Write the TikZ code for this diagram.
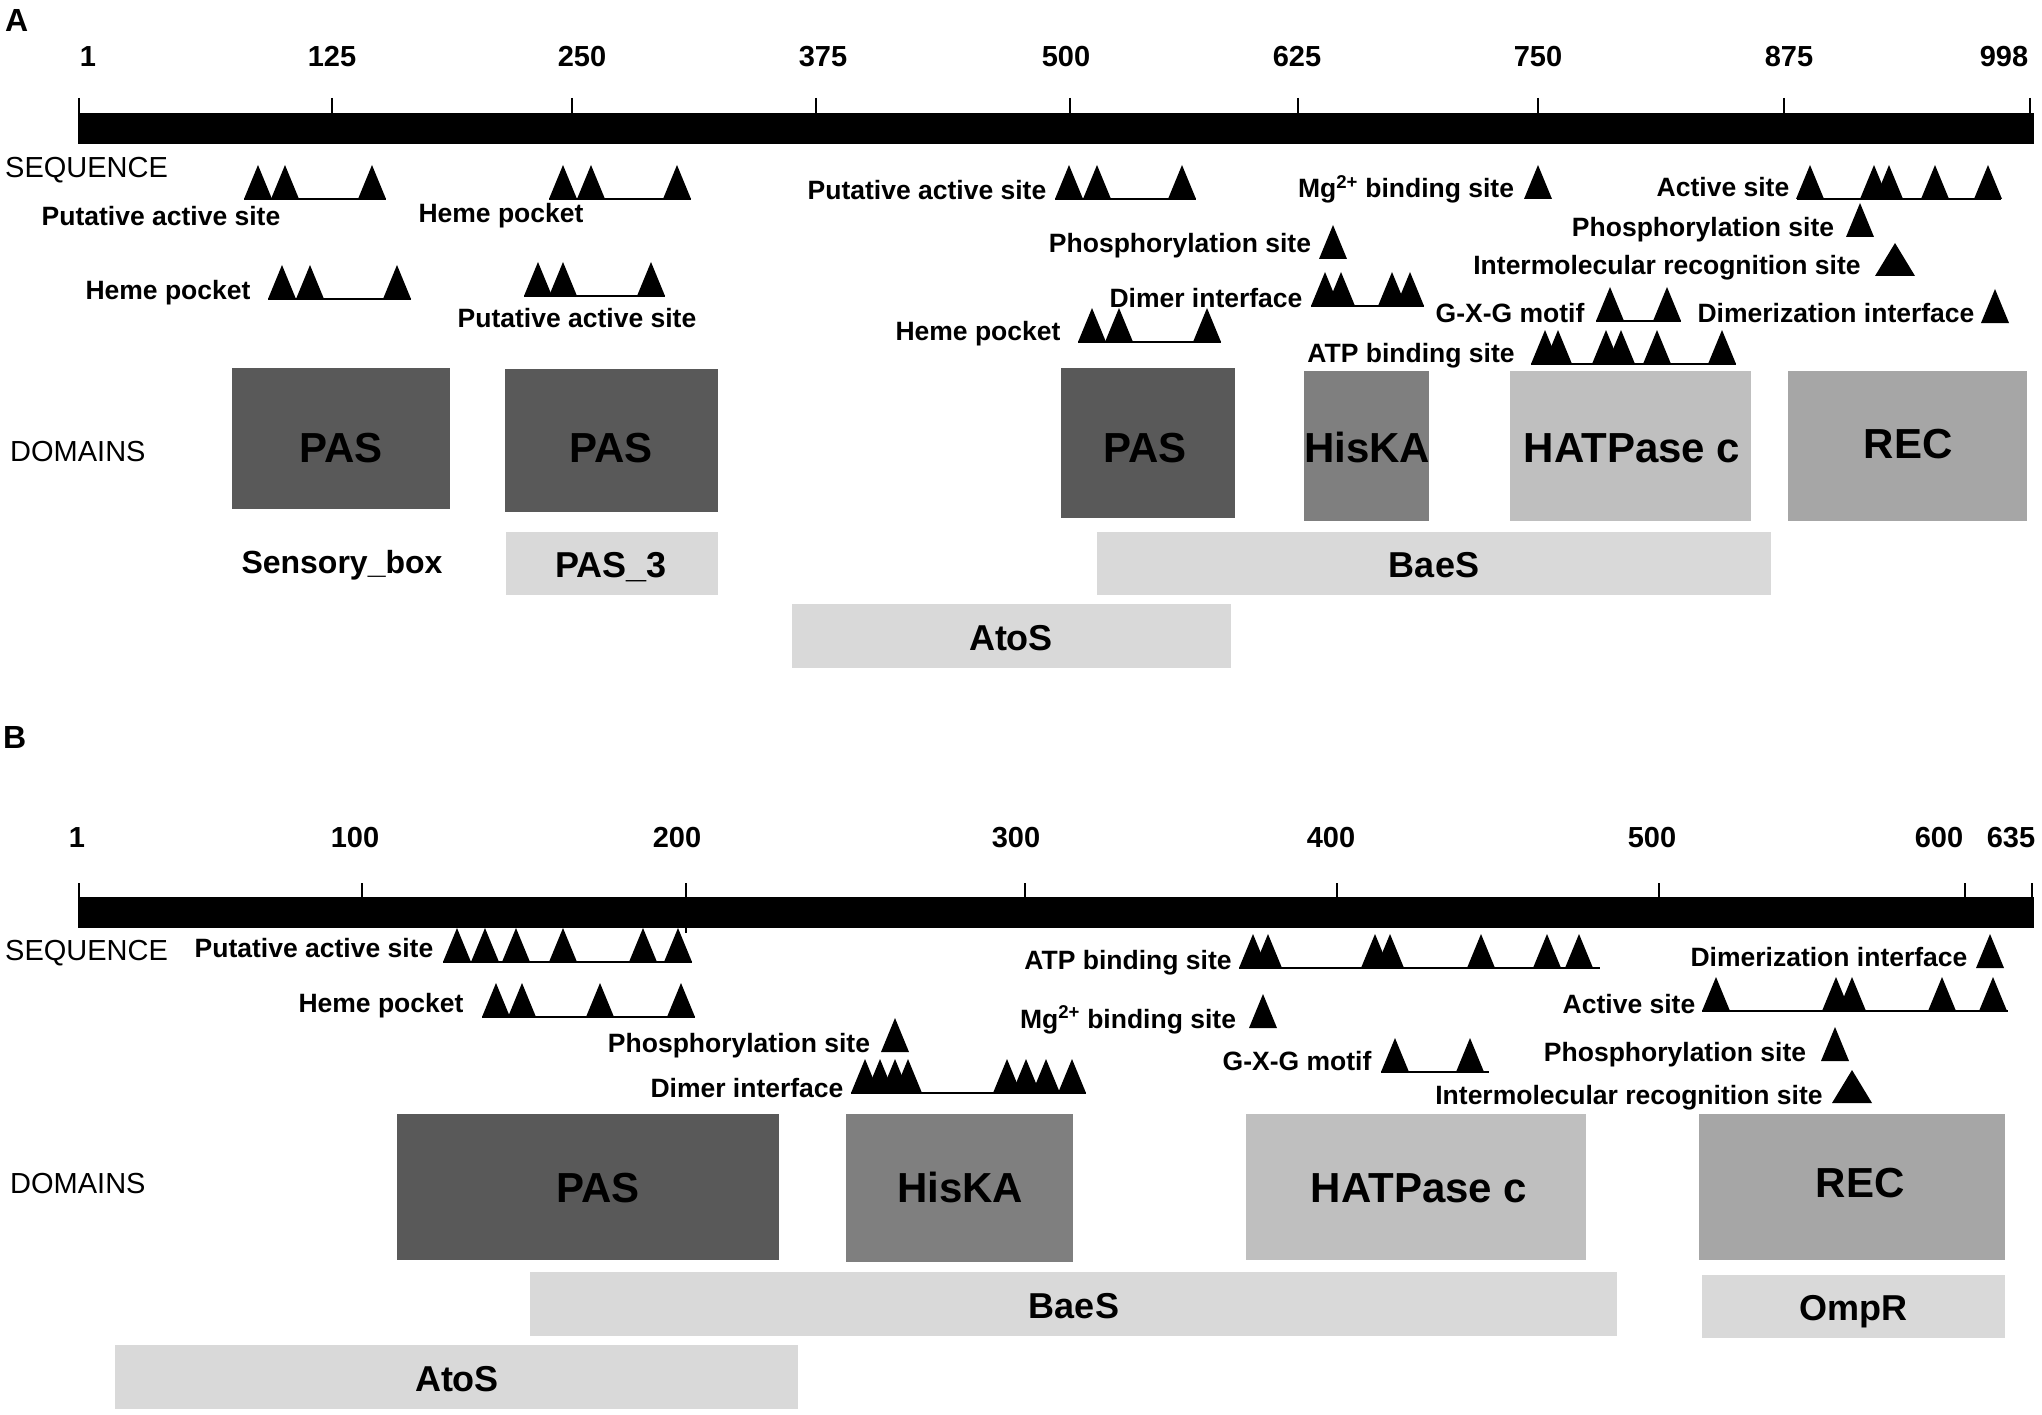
\documentclass[tikz,border=0pt]{standalone}
\usepackage{fontspec}
\setmainfont{Liberation Sans}
\definecolor{pasgray}{RGB}{89,89,89}
\definecolor{hisgray}{RGB}{127,127,127}
\definecolor{hatgray}{RGB}{191,191,191}
\definecolor{recgray}{RGB}{166,166,166}
\definecolor{famgray}{RGB}{217,217,217}
\newcommand{\sitefont}{\fontsize{26.5}{28}\selectfont\bfseries}
\newcommand{\tickfont}{\fontsize{29}{30}\selectfont\bfseries}
\newcommand{\rowfont}{\fontsize{29}{30}\selectfont}
\newcommand{\domfont}{\fontsize{42}{44}\selectfont\bfseries}
\newcommand{\famfont}{\fontsize{36}{38}\selectfont\bfseries}
\newcommand{\sites}[2]{\foreach \p in {#1} {\fill (\p-14,#2) -- (\p,#2-34) -- (\p+14,#2) -- cycle;}}
\newcommand{\bigsite}[2]{\fill (#1-20,#2) -- (#1,#2-33) -- (#1+20,#2) -- cycle;}

\begin{document}
\begin{tikzpicture}[x=1pt,y=-1pt,
  lbl/.style={anchor=base,inner sep=0pt,font=\sitefont},
  tlbl/.style={anchor=base,inner sep=0pt,font=\tickfont},
  row/.style={anchor=base west,inner sep=0pt,font=\rowfont},
  dom/.style={anchor=base,inner sep=0pt,font=\domfont},
  fam/.style={anchor=base,inner sep=0pt,font=\famfont},
  panel/.style={anchor=base west,inner sep=0pt,font=\fontsize{32}{34}\selectfont\bfseries},
  tick/.style={line width=1.5pt},
  sitebar/.style={line width=1.5pt}]
\useasboundingbox (0,0) rectangle (2042,1415);
\fill[white] (0,0) rectangle (2042,1415);
\begin{scope}
\node[panel] (A) at (5,32) {A};
\fill (78,113) rectangle (2034,144);
\foreach \t in {79,332,572,816,1070,1298,1538,1784,2030}
  \draw[tick] (\t,98) -- (\t,113);
\foreach \x/\n in {88/1,332/125,582/250,823/375,1066/500,1297/625,1538/750,1789/875,2004/998}
  \node[tlbl] (ta\n) at (\x,67) {\n};
\node[row] (seqA) at (5,178) {SEQUENCE};
\node[row] (domA) at (10,461) {DOMAINS};
\node[lbl] (a1) at (161,226) {Putative active site};
\sites{258,285,372}{199} \draw[sitebar] (244,199) -- (386,199);
\node[lbl] (a2) at (501,223) {Heme pocket};
\sites{563,591,677}{199} \draw[sitebar] (549,199) -- (691,199);
\node[lbl] (a3) at (168,299) {Heme pocket};
\sites{282,310,397}{299} \draw[sitebar] (268,299) -- (411,299);
\node[lbl] (a4) at (577,327) {Putative active site};
\sites{538,563,651}{296} \draw[sitebar] (524,296) -- (665,296);
\node[lbl] (a5) at (927,200) {Putative active site};
\sites{1069,1097,1182}{199} \draw[sitebar] (1055,199) -- (1196,199);
\node[lbl] (a6) at (1406,198) {Mg\textsuperscript{2+} binding site};
\sites{1538}{199}
\node[lbl] (a7) at (1723,197) {Active site};
\sites{1810,1874,1889,1935,1988}{199} \draw[sitebar] (1797,199) -- (2001,199);
\node[lbl] (a8) at (1703,237) {Phosphorylation site};
\sites{1860}{237}
\node[lbl] (a9) at (1667,275) {Intermolecular recognition site};
\bigsite{1895}{276}
\node[lbl] (a10) at (1180,253) {Phosphorylation site};
\sites{1333}{259}
\node[lbl] (a11) at (1206,307) {Dimer interface};
\sites{1325,1341,1392,1410}{306} \draw[sitebar] (1311,306) -- (1424,306);
\node[lbl] (a12) at (1510,322) {G-X-G motif};
\sites{1610,1667}{321} \draw[sitebar] (1596,321) -- (1681,321);
\node[lbl] (a13) at (1836,322) {Dimerization interface};
\sites{1995}{323}
\node[lbl] (a14) at (978,340) {Heme pocket};
\sites{1092,1119,1207}{342} \draw[sitebar] (1078,342) -- (1221,342);
\node[lbl] (a15) at (1411,362) {ATP binding site};
\sites{1545,1558,1606,1621,1657,1722}{364} \draw[sitebar] (1531,364) -- (1736,364);
\fill[pasgray] (232,368) rectangle (450,509);
\node[dom] (pasA1) at (341,462) {PAS};
\fill[pasgray] (505,369) rectangle (718,512);
\node[dom] (pasA2) at (611,462) {PAS};
\fill[pasgray] (1061,368) rectangle (1235,518);
\node[dom] (pasA3) at (1145,462) {PAS};
\fill[hisgray] (1304,371) rectangle (1429,521);
\node[dom] (hisA) at (1367,462) {HisKA};
\fill[hatgray] (1510,371) rectangle (1751,521);
\node[dom] (hatA) at (1632,462) {HATPase c};
\fill[recgray] (1788,371) rectangle (2027,521);
\node[dom] (recA) at (1908,458) {REC};
\node[fam,font=\fontsize{32}{34}\selectfont\bfseries] (sboxA) at (342,573) {Sensory\_box};
\fill[famgray] (506,532) rectangle (718,595);
\node[fam] (pas3A) at (611,577) {PAS\_3};
\fill[famgray] (1097,532) rectangle (1771,595);
\node[fam] (baesA) at (1434,577) {BaeS};
\fill[famgray] (792,604) rectangle (1231,668);
\node[fam] (atosA) at (1011,650) {AtoS};
\end{scope}
\begin{scope}
\node[panel] (B) at (3,748) {B};
\fill (78,897) rectangle (2034,928);
\foreach \t in {79,362,686,1025,1337,1659,1965,2032}
  \draw[tick] (\t,883) -- (\t,897);
\draw[tick] (686,928) -- (686,933);
\foreach \x/\n in {77/1,355/100,677/200,1016/300,1331/400,1652/500,1939/600,2011/635}
  \node[tlbl] (tb\n) at (\x,847) {\n};
\node[row] (seqB) at (5,960) {SEQUENCE};
\node[row] (domB) at (10,1193) {DOMAINS};
\node[lbl] (b1) at (314,957) {Putative active site};
\sites{457,485,516,563,643,678}{962} \draw[sitebar] (443,962) -- (692,962);
\node[lbl] (b2) at (381,1012) {Heme pocket};
\sites{496,522,600,681}{1017} \draw[sitebar] (482,1017) -- (695,1017);
\node[lbl] (b3) at (739,1052) {Phosphorylation site};
\sites{895}{1052}
\node[lbl] (b4) at (747,1097) {Dimer interface};
\sites{865,880,895,908,1007,1026,1046,1072}{1093} \draw[sitebar] (851,1093) -- (1086,1093);
\node[lbl] (b5) at (1128,969) {ATP binding site};
\sites{1253,1268,1375,1390,1481,1547,1579}{968} \draw[sitebar] (1239,968) -- (1600,968);
\node[lbl] (b6) at (1128,1028) {Mg\textsuperscript{2+} binding site};
\sites{1263}{1028}
\node[lbl] (b7) at (1297,1070) {G-X-G motif};
\sites{1395,1470}{1072} \draw[sitebar] (1381,1072) -- (1489,1072);
\node[lbl] (b8) at (1829,966) {Dimerization interface};
\sites{1990}{968}
\node[lbl] (b9) at (1629,1013) {Active site};
\sites{1716,1836,1852,1942,1993}{1011} \draw[sitebar] (1702,1011) -- (2008,1011);
\node[lbl] (b10) at (1675,1061) {Phosphorylation site};
\sites{1835}{1061}
\node[lbl] (b11) at (1629,1104) {Intermolecular recognition site};
\bigsite{1852}{1103}
\fill[pasgray] (397,1114) rectangle (779,1260);
\node[dom] (pasB) at (598,1202) {PAS};
\fill[hisgray] (846,1114) rectangle (1073,1262);
\node[dom] (hisB) at (960,1202) {HisKA};
\fill[hatgray] (1246,1114) rectangle (1586,1260);
\node[dom] (hatB) at (1419,1202) {HATPase c};
\fill[recgray] (1699,1114) rectangle (2005,1260);
\node[dom] (recB) at (1860,1197) {REC};
\fill[famgray] (530,1272) rectangle (1617,1336);
\node[fam] (baesB) at (1074,1318) {BaeS};
\fill[famgray] (1702,1275) rectangle (2005,1338);
\node[fam] (omprB) at (1853,1320) {OmpR};
\fill[famgray] (115,1345) rectangle (798,1409);
\node[fam] (atosB) at (457,1391) {AtoS};
\end{scope}
\end{tikzpicture}
\end{document}
